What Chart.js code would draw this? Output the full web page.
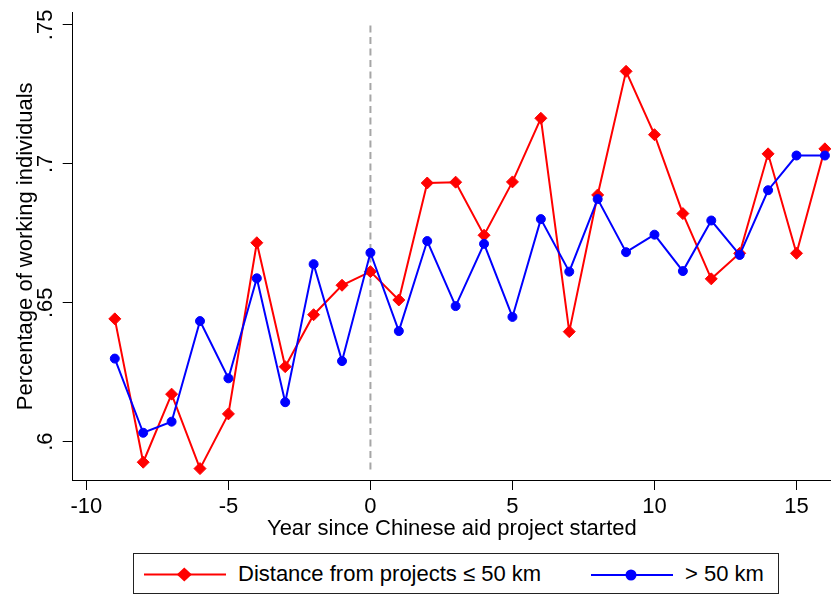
<!DOCTYPE html>
<html>
<head>
<meta charset="utf-8">
<script src="https://cdn.jsdelivr.net/npm/chart.js@4.4.1/dist/chart.umd.min.js"></script>
<style>
  html, body { margin: 0; padding: 0; background: #fff; }
  #wrap { position: relative; width: 831px; height: 597px; overflow: hidden; font-family: "Liberation Sans", Arial, sans-serif; }
  #chart { position: absolute; left: 0; top: 0; }
  #legend { position: absolute; left: 133px; top: 553px; width: 646px; height: 41px; box-sizing: border-box; border: 1px solid #222; background: #fff; }
  #legend svg { position: absolute; left: -133px; top: -553px; width: 831px; height: 597px; overflow: visible; }
  #legend span { position: absolute; font-size: 22px; line-height: 26px; color: #000; white-space: nowrap; }
</style>
</head>
<body>
<div id="wrap">
  <canvas id="chart" width="831" height="597"></canvas>
  <div id="legend">
    <svg viewBox="0 0 831 597">
      <line x1="143" y1="573.5" x2="225" y2="573.5" stroke="#ff0000" stroke-width="2"/>
      <polygon points="175.8,573.5 183.3,566.5 190.8,573.5 183.3,580.5" fill="#ff0000"/>
      <line x1="590" y1="574" x2="672" y2="574" stroke="#0000ff" stroke-width="2"/>
      <circle cx="630" cy="574" r="5.5" fill="#0000ff"/>
    </svg>
    <span id="lab1" style="left:104px; top:7px;">Distance from projects ≤ 50 km</span>
    <span id="lab2" style="left:551px; top:7px;">&gt; 50 km</span>
  </div>
</div>
<script>
// Years relative to the start of the aid project
const years = [-9, -8, -7, -6, -5, -4, -3, -2, -1, 0, 1, 2, 3, 4, 5, 6, 7, 8, 9, 10, 11, 12, 13, 14, 15, 16];

// Share of working individuals, households within 50 km of a project
const nearShare = [0.6442, 0.5926, 0.6171, 0.5903, 0.6100, 0.6716, 0.6270, 0.6457, 0.6563, 0.6612,
                   0.6510, 0.6931, 0.6934, 0.6743, 0.6935, 0.7164, 0.6396, 0.6888, 0.7333, 0.7105,
                   0.6821, 0.6586, 0.6678, 0.7036, 0.6678, 0.7054];

// Share of working individuals, households farther than 50 km
const farShare = [0.6299, 0.6032, 0.6072, 0.6434, 0.6228, 0.6588, 0.6142, 0.6639, 0.6290, 0.6680,
                  0.6398, 0.6722, 0.6488, 0.6712, 0.6449, 0.6801, 0.6612, 0.6873, 0.6682, 0.6745,
                  0.6614, 0.6796, 0.6672, 0.6905, 0.7030, 0.7030];

// Vertical reference line at project start
const startYear = 0;
const startLineY = [0.59, 0.75];

// Axis ticks
const xTickValues = [-10, -5, 0, 5, 10, 15];
const xTickLabels = ["-10", "-5", "0", "5", "10", "15"];
const yTickValues = [0.6, 0.65, 0.7, 0.75];
const yTickLabels = [".6", ".65", ".7", ".75"];

const FONT = "'Liberation Sans', Arial, sans-serif";

const toPoints = (xs, ys) => xs.map((x, i) => ({ x: x, y: ys[i] }));

new Chart(document.getElementById('chart'), {
  type: 'scatter',
  data: {
    datasets: [
      {
        label: '> 50 km',
        data: toPoints(years, farShare),
        showLine: true,
        borderColor: '#0000ff',
        backgroundColor: '#0000ff',
        borderWidth: 2,
        pointStyle: 'circle',
        pointRadius: 4.5,
        pointBorderWidth: 1,
        pointBorderColor: '#0000ff',
        pointBackgroundColor: '#0000ff',
        order: 0
      },
      {
        label: 'Distance from projects ≤ 50 km',
        data: toPoints(years, nearShare),
        showLine: true,
        borderColor: '#ff0000',
        backgroundColor: '#ff0000',
        borderWidth: 2,
        pointStyle: 'rectRot',
        pointRadius: 6,
        pointBorderWidth: 1,
        pointBorderColor: '#ff0000',
        pointBackgroundColor: '#ff0000',
        order: 1
      },
      {
        label: 'start',
        data: startLineY.map(y => ({ x: startYear, y: y })),
        showLine: true,
        borderColor: '#a6a6a6',
        borderWidth: 2,
        borderDash: [7, 4.5],
        pointRadius: 0,
        order: 2
      }
    ]
  },
  options: {
    responsive: false,
    animation: false,
    devicePixelRatio: 1,
    clip: false,
    layout: { autoPadding: false, padding: { top: 12.7, left: 0, right: 0, bottom: 0 } },
    plugins: {
      legend: { display: false },
      tooltip: { enabled: false }
    },
    scales: {
      x: {
        type: 'linear',
        min: -10.482,
        max: 16.215,
        afterBuildTicks: s => { s.ticks = xTickValues.map(v => ({ value: v })); },
        afterFit: s => { s.height = 117; s.paddingLeft = 0; s.paddingRight = 0; },
        border: { display: true, color: '#000', width: 1 },
        grid: { drawOnChartArea: false, drawTicks: true, tickLength: 10, color: '#000', lineWidth: 1 },
        ticks: {
          padding: 4,
          maxRotation: 0,
          autoSkip: false,
          color: '#000',
          font: { family: FONT, size: 22 },
          callback: (v, i) => xTickLabels[i]
        },
        title: {
          display: true,
          text: 'Year since Chinese aid project started',
          color: '#000',
          font: { family: FONT, size: 22 },
          padding: { top: 0, bottom: 55 }
        }
      },
      y: {
        type: 'linear',
        min: 0.5862,
        max: 0.7544,
        afterBuildTicks: s => { s.ticks = yTickValues.map(v => ({ value: v })); },
        afterFit: s => { s.width = 72.7; s.paddingTop = 0; s.paddingBottom = 0; },
        border: { display: true, color: '#000', width: 1 },
        grid: { drawOnChartArea: false, drawTicks: true, tickLength: 10, color: '#000', lineWidth: 1 },
        ticks: {
          padding: 1,
          minRotation: 90,
          maxRotation: 90,
          crossAlign: 'center',
          autoSkip: false,
          color: '#000',
          font: { family: FONT, size: 22 },
          callback: (v, i) => yTickLabels[i]
        },
        title: {
          display: true,
          text: 'Percentage of working individuals',
          color: '#000',
          font: { family: FONT, size: 22 },
          padding: { top: 13, bottom: 0 }
        }
      }
    }
  }
});
</script>
</body>
</html>
